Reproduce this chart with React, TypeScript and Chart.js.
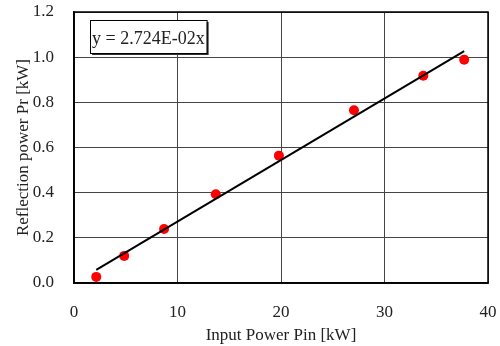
import React, { useEffect, useRef } from 'react';
import { Chart, registerables } from 'chart.js';

Chart.register(...registerables);

const pinKW = [2.15, 4.85, 8.7, 13.7, 19.8, 27.05, 33.75, 37.7];
const prKW = [0.027, 0.12, 0.239, 0.393, 0.564, 0.765, 0.918, 0.989];
const trendPin = [2.15, 37.7];
const trendPr = [0.0586, 1.027];
const equationLabel = 'y = 2.724E-02x';
const xTitle = 'Input Power Pin [kW]';
const yTitle = 'Reflection power Pr [kW]';
const xTicks = { min: 0, max: 40, step: 10 };
const yTicks = { min: 0, max: 1.2, step: 0.2 };

const FONT = "'Liberation Serif', 'Times New Roman', serif";
const TEXT = '#222';
const FS = 17;

const framePlugin = {
  id: 'frameAndEquation',
  afterDraw(chart: any) {
    const { ctx, chartArea } = chart;
    ctx.save();
    ctx.strokeStyle = '#000';
    ctx.lineWidth = 1.5;
    ctx.strokeRect(chartArea.left, chartArea.top, chartArea.right - chartArea.left, chartArea.bottom - chartArea.top);
    const bx = chartArea.left + 16;
    const by = chartArea.top + 8;
    ctx.font = `18px ${FONT}`;
    const tw = ctx.measureText(equationLabel).width;
    const bw = tw + 4;
    const bh = 33;
    ctx.fillStyle = '#333';
    ctx.fillRect(bx + 2, by + 2, bw, bh);
    ctx.fillStyle = '#fff';
    ctx.fillRect(bx, by, bw, bh);
    ctx.strokeStyle = '#000';
    ctx.lineWidth = 1;
    ctx.strokeRect(bx + 0.5, by + 0.5, bw, bh);
    ctx.fillStyle = TEXT;
    ctx.textBaseline = 'alphabetic';
    ctx.textAlign = 'left';
    ctx.fillText(equationLabel, bx + 2, by + 24);
    ctx.restore();
  },
};

export default function App() {
  const ref = useRef<HTMLCanvasElement | null>(null);
  useEffect(() => {
    if (!ref.current) return;
    const chart = new Chart(ref.current, {
      type: 'scatter',
      data: {
        datasets: [
          {
            label: 'trend',
            data: trendPin.map((x, i) => ({ x, y: trendPr[i] })),
            showLine: true,
            borderColor: '#000',
            borderWidth: 2,
            pointRadius: 0,
            order: 1,
          },
          {
            label: 'Pr',
            data: pinKW.map((x, i) => ({ x, y: prKW[i] })),
            backgroundColor: '#ff0000',
            borderColor: '#ff0000',
            pointRadius: 5,
            borderWidth: 0,
            order: 2,
          },
        ],
      },
      options: {
        responsive: false,
        animation: false,
        devicePixelRatio: 1,
        layout: { padding: { top: 12, right: 12, left: 0, bottom: 0 } },
        plugins: { legend: { display: false }, tooltip: { enabled: false } },
        scales: {
          x: {
            type: 'linear',
            min: xTicks.min,
            max: xTicks.max,
            ticks: { stepSize: xTicks.step, padding: 19, color: TEXT, font: { family: FONT, size: FS } },
            grid: { color: '#444', drawTicks: false, lineWidth: 1 },
            border: { display: true, color: '#000', width: 1.5 },
            title: { display: true, text: xTitle, color: TEXT, font: { family: FONT, size: FS }, padding: { top: 0, bottom: 0 } },
            afterFit: (s: any) => {
              s.height = 63;
              s.paddingLeft = 0;
              s.paddingRight = 0;
              s.paddingTop = 0;
              s.paddingBottom = 0;
            },
          },
          y: {
            type: 'linear',
            min: yTicks.min,
            max: yTicks.max,
            ticks: {
              stepSize: yTicks.step,
              padding: 20,
              color: TEXT,
              font: { family: FONT, size: FS },
              callback: (v: any) => Number(v).toFixed(1),
            },
            grid: { color: '#444', drawTicks: false, lineWidth: 1 },
            border: { display: true, color: '#000', width: 1.5 },
            title: { display: true, text: yTitle, color: TEXT, font: { family: FONT, size: FS }, padding: { top: 13, bottom: 0 } },
            afterFit: (s: any) => {
              s.width = 74;
              s.paddingLeft = 0;
              s.paddingRight = 0;
              s.paddingTop = 0;
              s.paddingBottom = 0;
            },
          },
        },
      },
      plugins: [framePlugin],
    });
    return () => chart.destroy();
  }, []);
  return (
    <div style={{ position: 'absolute', left: 0, top: 0, width: 500, height: 346, background: '#fff' }}>
      <canvas ref={ref} width={500} height={346} />
    </div>
  );
}
